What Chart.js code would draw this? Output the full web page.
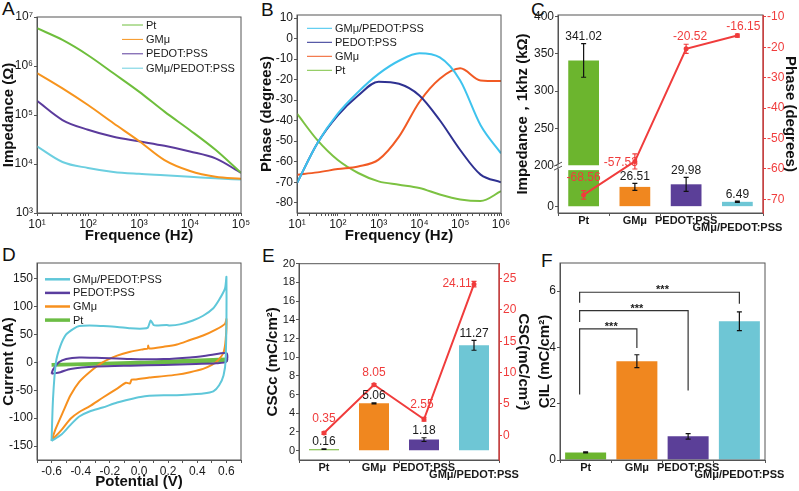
<!DOCTYPE html>
<html>
<head>
<meta charset="utf-8">
<script src="https://cdn.jsdelivr.net/npm/chart.js@4.4.1/dist/chart.umd.min.js"></script>
<style>
  body { margin: 0; background: #fff; }
  #wrap { position: relative; width: 799px; height: 491px; overflow: hidden; font-family: 'Liberation Sans', Arial, sans-serif; }
  #wrap canvas { position: absolute; }
  .tag { position: absolute; font-size: 19px; line-height: 1; color: #111; }
</style>
</head>
<body>
<div id="wrap">
  <div class="tag" style="left:2px;top:-1px">A</div>
  <div class="tag" style="left:261px;top:0px">B</div>
  <div class="tag" style="left:531px;top:0px">C</div>
  <div class="tag" style="left:2px;top:245px">D</div>
  <div class="tag" style="left:262px;top:246px">E</div>
  <div class="tag" style="left:541px;top:251px">F</div>
</div>
<script>
// ---- A: impedance vs frequency ----
const freqA = [10, 31.6, 100, 316, 1000, 3162, 10000, 31623, 100000];
const zPt = [5.9e6, 3.4e6, 1.66e6, 7.1e5, 3.0e5, 1.17e5, 4.9e4, 1.95e4, 6.6e3];
const zGM = [7.2e5, 3.5e5, 1.6e5, 6.8e4, 2.95e4, 1.2e4, 7.2e3, 5.5e3, 5.0e3];
const zPEDOT = [1.95e5, 7.9e4, 5.0e4, 3.6e4, 2.9e4, 2.35e4, 1.8e4, 1.3e4, 6.6e3];
const zGMPEDOT = [2.3e4, 1.1e4, 8.3e3, 6.9e3, 6.3e3, 5.9e3, 5.5e3, 5.1e3, 4.8e3];

// ---- B: phase vs frequency ----
const freqB = [10, 31.6, 100, 316, 1000, 3162, 10000, 31623, 100000, 316228, 1000000];
const phGMPEDOT = [-70.4, -51, -36.6, -26, -17.2, -10.8, -7.2, -9.2, -20.4, -42.2, -55.9];
const phPEDOT = [-70.4, -51, -37.4, -27.7, -21.0, -22.0, -27.7, -39.8, -54.3, -66.3, -70];
const phGM = [-66.3, -65.2, -63.6, -62.3, -59, -47.8, -30.9, -19.6, -14.5, -20.4, -20.7];
const phPt = [-36.6, -49.5, -59.2, -65.5, -69.6, -71.2, -72.8, -76, -78.4, -79.2, -74.4];

// ---- C: impedance / phase at 1 kHz ----
const categories = ['Pt', 'GMμ', 'PEDOT:PSS', 'GMμ/PEDOT:PSS'];
const imp1k = [341.02, 26.51, 29.98, 6.49];
const imp1kErr = [22.5, 4.7, 9.4, 0.8];
const phase1k = [-68.56, -57.53, -20.52, -16.15];
const phase1kErr = [1.4, 2.5, 1.5, 0.5];
const impTicks = [0, 200, 250, 300, 350, 400];

// ---- D: cyclic voltammetry ----
const cvGMPEDOT_V = [-0.60, -0.59, -0.57, -0.54, -0.50, -0.45, -0.41, -0.34, -0.25, -0.15, -0.06, 0.03, 0.06, 0.08, 0.10, 0.12, 0.19, 0.21, 0.28, 0.37, 0.44, 0.51, 0.55, 0.59, 0.60,
  0.595, 0.58, 0.55, 0.51, 0.44, 0.35, 0.26, 0.17, 0.07, 0.01, -0.06, -0.15, -0.25, -0.34, -0.41, -0.47, -0.53, -0.60];
const cvGMPEDOT_I = [-141, -65, 0, 29, 50, 60, 65, 66, 65, 63.5, 61, 60.5, 62, 75, 67, 66, 67, 66, 68, 75, 83.5, 97, 112, 132, 153,
  6, -23.5, -41, -52, -56, -57.6, -58.8, -58.8, -60, -62, -66, -72, -81, -88, -97, -112, -129, -141];
const cvPEDOT_V = [-0.60, -0.59, -0.55, -0.50, -0.41, -0.29, -0.06, 0.17, 0.35, 0.49, 0.60, 0.60, 0.53, 0.39, 0.17, -0.06, -0.29, -0.47, -0.54, -0.60];
const cvPEDOT_I = [-20.6, -13, 0, 5.9, 8.8, 8.2, 5.9, 5.9, 8.8, 13, 16.5, 1.2, -1.8, -2.9, -4.7, -5.9, -7.6, -11.8, -17.6, -20.6];
const cvGM_V = [-0.60, -0.57, -0.52, -0.47, -0.41, -0.34, -0.25, -0.15, -0.06, 0.03, 0.06, 0.063, 0.07, 0.17, 0.26, 0.35, 0.44, 0.53, 0.59, 0.60,
  0.595, 0.58, 0.54, 0.50, 0.44, 0.35, 0.26, 0.17, 0.07, -0.02, -0.05, -0.063, -0.09, -0.15, -0.25, -0.34, -0.41, -0.47, -0.53, -0.60];
const cvGM_I = [-140, -118, -88, -59, -35, -17.6, 0, 12, 19, 23.5, 24.7, 30, 24.7, 28, 32, 40, 48, 59, 69, 77.6,
  41, 17.6, 3, -4.7, -11.8, -17.6, -22, -24.7, -27, -30.6, -31, -38, -36.5, -47, -63.5, -79, -89, -101, -120.6, -140];
const cvPt_V = [-0.60, 0.0, 0.60, 0.60, 0.0, -0.60];
const cvPt_I = [-4, 0, 6, 3, -2, -5];

// ---- E: charge storage capacity ----
const cscC = [0.16, 5.06, 1.18, 11.27];
const cscCErr = [0.03, 0.05, 0.2, 0.53];
const csc = [0.35, 8.05, 2.55, 24.11];
const cscErr = [0.2, 0.2, 0.3, 0.45];

// ---- F: charge injection limit ----
const cil = [0.27, 3.51, 0.84, 4.93];
const cilErr = [0.02, 0.23, 0.1, 0.33];
const sigPairs = [[0, 1], [0, 2], [0, 3]];
const sigLevel = [4.66, 5.31, 5.96];
const sigLegFrom = [2.33, 4.9, 5.59];
const sigLegTo = [3.98, 2.47, 5.55];

const FONT = "'Liberation Sans', Arial, sans-serif";
const AX = '#555';
const TXT = '#1a1a1a';
const RED = '#f03c3c';
const barColors = ['#6cb52e', '#f0871f', '#5b3f98', '#6ec6d5'];

Chart.defaults.font.family = FONT;
Chart.defaults.color = TXT;
Chart.defaults.animation = false;
Chart.defaults.responsive = false;
Chart.defaults.devicePixelRatio = 1;
Chart.defaults.plugins.legend.display = false;
Chart.defaults.plugins.tooltip.enabled = false;

const wrap = document.getElementById('wrap');
function makeCanvas(x, y, w, h) {
  const c = document.createElement('canvas');
  c.width = w; c.height = h;
  c.style.left = x + 'px'; c.style.top = y + 'px';
  wrap.appendChild(c);
  return c;
}

const sup = { '1': '¹', '2': '²', '3': '³', '4': '⁴', '5': '⁵', '6': '⁶', '7': '⁷' };
const isPow = v => Math.abs(Math.log10(v) - Math.round(Math.log10(v))) < 1e-6;
const powLabel = v => isPow(v) ? '10' + sup[String(Math.round(Math.log10(v)))] : '';

function axis(o) {
  return {
    type: o.type || 'linear',
    position: o.position || undefined,
    min: o.min, max: o.max,
    offset: o.offset,
    afterFit: o.fit,
    afterBuildTicks: o.afterBuildTicks,
    border: { display: true, color: o.color || AX, width: 1 },
    grid: { drawOnChartArea: false, tickLength: 3, tickColor: o.tickColor || o.color || AX },
    ticks: {
      color: o.color || TXT, font: o.font || { size: 12 }, padding: o.pad == null ? 1 : o.pad,
      autoSkip: false, maxRotation: 0, minRotation: 0, includeBounds: false,
      stepSize: o.step, callback: o.cb
    },
    title: { display: !!o.title, text: o.title, color: '#111', font: { size: 15, weight: 'bold' }, padding: 0 }
  };
}

const boxPlugin = {
  id: 'box',
  afterDatasetsDraw(chart, args, o) {
    const a = chart.chartArea, ctx = chart.ctx;
    ctx.save();
    ctx.lineWidth = 1;
    ctx.strokeStyle = AX;
    ctx.strokeRect(a.left, a.top, a.right - a.left, a.bottom - a.top);
    if (o.right) {
      ctx.strokeStyle = o.right;
      ctx.beginPath(); ctx.moveTo(a.right, a.top); ctx.lineTo(a.right, a.bottom); ctx.stroke();
    }
    ctx.restore();
  }
};

const lineLegend = {
  id: 'lineLegend',
  afterDraw(chart, args, o) {
    if (!o.order) return;
    const ctx = chart.ctx, a = chart.chartArea;
    ctx.save();
    ctx.font = '11px ' + FONT;
    ctx.textBaseline = 'middle';
    ctx.fillStyle = TXT;
    o.order.forEach((di, k) => {
      const ds = chart.data.datasets[di];
      const x = a.left + o.x, y = a.top + o.y + k * o.dy;
      ctx.strokeStyle = ds.borderColor;
      ctx.lineWidth = ds.borderWidth + 0.5;
      ctx.beginPath(); ctx.moveTo(x, y); ctx.lineTo(x + o.len, y); ctx.stroke();
      ctx.fillText(ds.label, x + o.len + 3, y + 0.5);
    });
    ctx.restore();
  }
};

const errBars = {
  id: 'errBars',
  afterDatasetsDraw(chart, args, o) {
    const ctx = chart.ctx;
    (o.sets || []).forEach(s => {
      const meta = chart.getDatasetMeta(s.ds);
      const ys = chart.scales[meta.yAxisID];
      ctx.save();
      ctx.strokeStyle = s.color;
      ctx.lineWidth = 1.2;
      meta.data.forEach((el, i) => {
        const hi = ys.getPixelForValue(s.hi[i]), lo = ys.getPixelForValue(s.lo[i]);
        const x = el.x, c = 2.5;
        ctx.beginPath();
        ctx.moveTo(x, hi); ctx.lineTo(x, lo);
        ctx.moveTo(x - c, hi); ctx.lineTo(x + c, hi);
        ctx.moveTo(x - c, lo); ctx.lineTo(x + c, lo);
        ctx.stroke();
      });
      ctx.restore();
    });
  }
};

const valLabels = {
  id: 'valLabels',
  afterDatasetsDraw(chart, args, o) {
    const ctx = chart.ctx;
    (o.sets || []).forEach(s => {
      const meta = chart.getDatasetMeta(s.ds);
      const ys = chart.scales[meta.yAxisID];
      ctx.save();
      ctx.font = '12px ' + FONT;
      ctx.fillStyle = s.color;
      ctx.textAlign = 'center';
      ctx.textBaseline = 'middle';
      meta.data.forEach((el, i) => {
        const x = el.x + (s.dx ? s.dx[i] : 0);
        const y = ys.getPixelForValue(s.at[i]) + (s.dy ? s.dy[i] : -7);
        ctx.fillText(s.text[i], x, y);
      });
      ctx.restore();
    });
  }
};

const catTicks = (v, i) => i === 3 ? ['', categories[i]] : categories[i];
const catFont = { size: 11, weight: 'bold', lineHeight: 0.62 };

// ================= A =================
new Chart(makeCanvas(0, 0, 258, 245), {
  type: 'line',
  data: {
    datasets: [
      { label: 'Pt', data: freqA.map((f, i) => ({ x: f, y: zPt[i] })), borderColor: '#6ebe3c' },
      { label: 'GMμ', data: freqA.map((f, i) => ({ x: f, y: zGM[i] })), borderColor: '#f7941d' },
      { label: 'PEDOT:PSS', data: freqA.map((f, i) => ({ x: f, y: zPEDOT[i] })), borderColor: '#5b3b9c' },
      { label: 'GMμ/PEDOT:PSS', data: freqA.map((f, i) => ({ x: f, y: zGMPEDOT[i] })), borderColor: '#6ccfe0' }
    ]
  },
  options: {
    layout: { padding: { top: 17, right: 17, left: 0, bottom: 0 } },
    elements: { point: { radius: 0 }, line: { borderWidth: 2, cubicInterpolationMode: 'monotone' } },
    scales: {
      x: axis({ type: 'logarithmic', min: 10, max: 1e5, fit: s => { s.height = 32; }, cb: powLabel, title: 'Frequence (Hz)' }),
      y: axis({ type: 'logarithmic', min: 1e3, max: 1e7, fit: s => { s.width = 37; }, cb: powLabel, title: 'Impedance (Ω)',
        tickColor: c => isPow(c.tick.value) ? AX : 'rgba(0,0,0,0)' })
    },
    plugins: { lineLegend: { order: [0, 1, 2, 3], x: 85, y: 8, dy: 14.4, len: 21 } }
  },
  plugins: [boxPlugin, lineLegend]
});

// ================= B =================
new Chart(makeCanvas(258, 0, 256, 245), {
  type: 'line',
  data: {
    datasets: [
      { label: 'GMμ/PEDOT:PSS', data: freqB.map((f, i) => ({ x: f, y: phGMPEDOT[i] })), borderColor: '#3ec3ee' },
      { label: 'PEDOT:PSS', data: freqB.map((f, i) => ({ x: f, y: phPEDOT[i] })), borderColor: '#2e3191' },
      { label: 'GMμ', data: freqB.map((f, i) => ({ x: f, y: phGM[i] })), borderColor: '#f15a24' },
      { label: 'Pt', data: freqB.map((f, i) => ({ x: f, y: phPt[i] })), borderColor: '#7cc242' }
    ]
  },
  options: {
    layout: { padding: { top: 15, right: 13, left: 0, bottom: 0 } },
    elements: { point: { radius: 0 }, line: { borderWidth: 2, cubicInterpolationMode: 'monotone' } },
    scales: {
      x: axis({ type: 'logarithmic', min: 10, max: 1e6, fit: s => { s.height = 32; }, cb: powLabel, title: 'Frequency (Hz)' }),
      y: axis({ min: -85, max: 11.5, step: 10, fit: s => { s.width = 39; }, title: 'Phase (degrees)' })
    },
    plugins: { lineLegend: { order: [0, 1, 2, 3], x: 10, y: 13.3, dy: 14, len: 25 } }
  },
  plugins: [boxPlugin, lineLegend]
});

// ================= C =================
const brkLo = 55, brkHi = 200;
const toAx = v => v > brkLo ? v - (brkHi - brkLo) : v;
const fromAx = v => v >= brkLo ? v + (brkHi - brkLo) : v;

const breakPlugin = {
  id: 'axisBreak',
  afterDatasetsDraw(chart) {
    const ctx = chart.ctx, ys = chart.scales.y, meta = chart.getDatasetMeta(1);
    const el = meta.data[0];
    const yTop = ys.getPixelForValue(brkLo + 0.5), yBot = ys.getPixelForValue(brkLo - 6);
    ctx.save();
    ctx.fillStyle = '#fff';
    ctx.fillRect(el.x - el.width / 2 - 1, yTop, el.width + 2, yBot - yTop);
    const ax = chart.chartArea.left, yb = ys.getPixelForValue(brkLo - 2);
    ctx.fillRect(ax - 1, yb - 3, 3, 5);
    ctx.strokeStyle = AX; ctx.lineWidth = 1;
    ctx.beginPath();
    ctx.moveTo(ax - 4, yb - 1); ctx.lineTo(ax + 4, yb - 5);
    ctx.moveTo(ax - 4, yb + 3); ctx.lineTo(ax + 4, yb - 1);
    ctx.stroke();
    ctx.restore();
  }
};

new Chart(makeCanvas(514, 0, 285, 245), {
  type: 'bar',
  data: {
    labels: categories,
    datasets: [
      { type: 'line', label: 'Phase', data: phase1k, yAxisID: 'y2', borderColor: RED, backgroundColor: RED,
        borderWidth: 2, pointRadius: 1.5, order: 0 },
      { label: 'Impedance', data: imp1k.map(toAx), yAxisID: 'y', backgroundColor: barColors,
        borderWidth: 0, barPercentage: 0.6, categoryPercentage: 1, order: 1 }
    ]
  },
  options: {
    layout: { padding: { top: 15, right: 0, left: 0, bottom: 0 } },
    scales: {
      x: axis({ type: 'category', offset: true, fit: s => { s.height = 32; }, cb: catTicks, font: catFont, pad: 2 }),
      y: axis({ min: -8.5, max: 257, fit: s => { s.width = 44; }, title: 'Impedance，1khz (kΩ)',
        afterBuildTicks: s => { s.ticks = impTicks.map(v => ({ value: toAx(v) })); }, cb: v => String(fromAx(v)) }),
      y2: axis({ position: 'right', min: -74.5, max: -9.4, step: 10, fit: s => { s.width = 36; }, color: RED, title: 'Phase (degrees)' })
    },
    plugins: {
      box: { right: RED },
      errBars: { sets: [
        { ds: 1, color: '#111', hi: imp1k.map((v, i) => toAx(v + imp1kErr[i])), lo: imp1k.map((v, i) => toAx(v - imp1kErr[i])) },
        { ds: 0, color: RED, hi: phase1k.map((v, i) => v + phase1kErr[i]), lo: phase1k.map((v, i) => v - phase1kErr[i]) }
      ] },
      valLabels: { sets: [
        { ds: 1, color: TXT, text: imp1k.map(v => v.toFixed(2)), at: imp1k.map((v, i) => toAx(v + imp1kErr[i])) },
        { ds: 0, color: RED, text: phase1k.map(v => v.toFixed(2)), at: phase1k, dx: [0, -14, 4, 6], dy: [-17, 1, -12.6, -8.4] }
      ] }
    }
  },
  plugins: [breakPlugin, boxPlugin, errBars, valLabels]
});

// ================= D =================
const cv = (V, I) => V.map((v, i) => ({ x: v, y: I[i] }));
new Chart(makeCanvas(0, 245, 262, 246), {
  type: 'scatter',
  data: {
    datasets: [
      { label: 'GMμ/PEDOT:PSS', data: cv(cvGMPEDOT_V, cvGMPEDOT_I), borderColor: '#5fc7d9', borderWidth: 2 },
      { label: 'PEDOT:PSS', data: cv(cvPEDOT_V, cvPEDOT_I), borderColor: '#5a3d9e', borderWidth: 2 },
      { label: 'GMμ', data: cv(cvGM_V, cvGM_I), borderColor: '#f7901e', borderWidth: 2 },
      { label: 'Pt', data: cv(cvPt_V, cvPt_I), borderColor: '#6cbd45', borderWidth: 3 }
    ]
  },
  options: {
    layout: { padding: { top: 18, right: 21, left: 0, bottom: 0 } },
    elements: { point: { radius: 0 }, line: { tension: 0.25 } },
    datasets: { scatter: { showLine: true } },
    scales: {
      x: axis({ min: -0.7, max: 0.7, step: 0.1, fit: s => { s.height = 31; }, title: 'Potential (V)',
        cb: v => Math.abs(Math.round(v * 10)) % 2 === 0 ? (Math.round(v * 10) / 10).toFixed(1) : '' }),
      y: axis({ min: -175, max: 178, step: 50, fit: s => { s.width = 37; }, title: 'Current (nA)' })
    },
    plugins: { lineLegend: { order: [0, 1, 2, 3], x: 8, y: 16.3, dy: 13.6, len: 25 } }
  },
  plugins: [boxPlugin, lineLegend]
});

// ================= E =================
new Chart(makeCanvas(264, 245, 268, 246), {
  type: 'bar',
  data: {
    labels: categories,
    datasets: [
      { type: 'line', label: 'CSC', data: csc, yAxisID: 'y2', borderColor: RED, backgroundColor: RED,
        borderWidth: 2, pointRadius: 1.5, order: 0 },
      { label: 'CSCc', data: cscC, yAxisID: 'y', backgroundColor: barColors,
        borderWidth: 0, barPercentage: 0.6, categoryPercentage: 1, order: 1 }
    ]
  },
  options: {
    layout: { padding: { top: 18.7, right: 0, left: 0, bottom: 0 } },
    scales: {
      x: axis({ type: 'category', offset: true, fit: s => { s.height = 31; }, cb: catTicks, font: catFont, pad: 2 }),
      y: axis({ min: -1, max: 20, step: 2, fit: s => { s.width = 35; }, title: 'CSCc (mC/cm²)', font: { size: 11 } }),
      y2: axis({ position: 'right', min: -3.95, max: 27.37, step: 5, fit: s => { s.width = 33; }, color: RED, title: 'CSC(mC/cm²)' })
    },
    plugins: {
      box: { right: RED },
      errBars: { sets: [
        { ds: 1, color: '#111', hi: cscC.map((v, i) => v + cscCErr[i]), lo: cscC.map((v, i) => v - cscCErr[i]) },
        { ds: 0, color: RED, hi: csc.map((v, i) => v + cscErr[i]), lo: csc.map((v, i) => v - cscErr[i]) }
      ] },
      valLabels: { sets: [
        { ds: 1, color: TXT, text: cscC.map(v => v.toFixed(2)), at: cscC.map((v, i) => v + cscCErr[i]) },
        { ds: 0, color: RED, text: csc.map(v => v.toFixed(2)), at: csc, dx: [0, 0, -2, -17], dy: [-14, -11.7, -15, 0] }
      ] }
    }
  },
  plugins: [boxPlugin, errBars, valLabels]
});

// ================= F =================
const sigPlugin = {
  id: 'sig',
  afterDatasetsDraw(chart) {
    const ctx = chart.ctx, xs = chart.scales.x, ys = chart.scales.y;
    ctx.save();
    ctx.strokeStyle = '#333'; ctx.lineWidth = 1.2;
    ctx.fillStyle = TXT; ctx.font = 'bold 11px ' + FONT;
    ctx.textAlign = 'center'; ctx.textBaseline = 'alphabetic';
    sigPairs.forEach((p, k) => {
      const x1 = xs.getPixelForValue(p[0]) - 6, x2 = xs.getPixelForValue(p[1]);
      const yb = ys.getPixelForValue(sigLevel[k]);
      ctx.beginPath();
      ctx.moveTo(x1, ys.getPixelForValue(sigLegFrom[k]));
      ctx.lineTo(x1, yb); ctx.lineTo(x2, yb);
      ctx.lineTo(x2, ys.getPixelForValue(sigLegTo[k]));
      ctx.stroke();
      ctx.fillText('***', (x1 + x2) / 2 + 3, yb + 1);
    });
    ctx.restore();
  }
};

new Chart(makeCanvas(536, 245, 263, 246), {
  type: 'bar',
  data: {
    labels: categories,
    datasets: [
      { label: 'CIL', data: cil, backgroundColor: barColors, borderWidth: 0, barPercentage: 0.8, categoryPercentage: 1 }
    ]
  },
  options: {
    layout: { padding: { top: 18, right: 34, left: 0, bottom: 0 } },
    scales: {
      x: axis({ type: 'category', offset: true, fit: s => { s.height = 31; }, cb: catTicks, font: catFont, pad: 2 }),
      y: axis({ min: 0, max: 7, step: 2, fit: s => { s.width = 24; }, title: 'CIL (mC/cm²)' })
    },
    plugins: {
      errBars: { sets: [
        { ds: 0, color: '#111', hi: cil.map((v, i) => v + cilErr[i]), lo: cil.map((v, i) => v - cilErr[i]) }
      ] }
    }
  },
  plugins: [boxPlugin, errBars, sigPlugin]
});
</script>
</body>
</html>
